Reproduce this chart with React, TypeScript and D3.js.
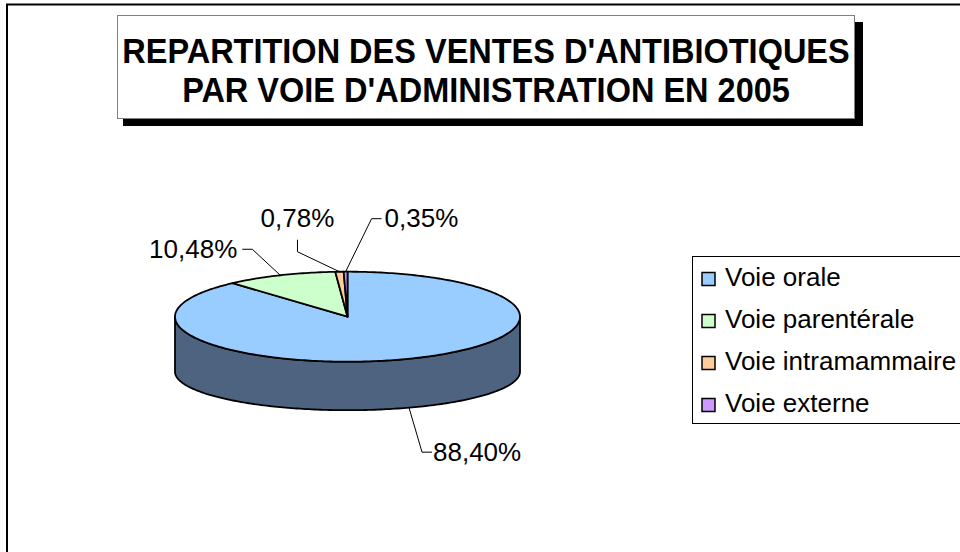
import React from "react";
import * as d3 from "d3";

const categories = ["Voie orale", "Voie parentérale", "Voie intramammaire", "Voie externe"];
const values = [88.4, 10.48, 0.78, 0.35];
const valueLabels = ["88,40%", "10,48%", "0,78%", "0,35%"];
const colors = ["#99CCFF", "#CCFFCC", "#FFCC99", "#CC99FF"];
const titleLines = ["REPARTITION DES VENTES D'ANTIBIOTIQUES", "PAR VOIE D'ADMINISTRATION EN 2005"];

// layout (positions relative to each slice's anchor)
const labelLayout = [
  { elbow: [13, 44.5], end: [23, 44.5], text: [1, 8.5], anchor: "start" },
  { elbow: [-28, -26], end: [-38, -26], text: [-5, 8.5], anchor: "end" },
  { elbow: [-42, -20], end: [-42, -32], text: [0, -13], anchor: "middle" },
  { elbow: [26, -53], end: [36, -53], text: [3, 8.5], anchor: "start" },
];

const W = 960, H = 552;
const cx = 347.5, cy = 316.7, rx = 172.5, ry = 45;
const botDy = 55, botRy = 38.5;
const FONT = "'Liberation Sans', Arial, sans-serif";

function pt(a: number, bottom = false): [number, number] {
  return bottom
    ? [cx + rx * Math.sin(a), cy + botDy - botRy * Math.cos(a)]
    : [cx + rx * Math.sin(a), cy - ry * Math.cos(a)];
}
function arcPts(s: number, e: number, bottom = false): [number, number][] {
  const n = Math.max(2, Math.ceil(((e - s) / (2 * Math.PI)) * 360));
  return d3.range(n + 1).map((i) => pt(s + ((e - s) * i) / n, bottom));
}
function darken(c: string) {
  const r = d3.rgb(c);
  return d3.rgb(r.r * 0.51, r.g * 0.485, r.b * 0.5).formatHex();
}

export default function App() {
  const arcs = d3.pie<number>().sort(null).value((d) => d)(values);
  const line = d3.line();
  const legendY = d3.scaleLinear().domain([0, 1]).range([279, 321]);

  const sides = arcs
    .map((a, i) => {
      const s = Math.max(a.startAngle, Math.PI / 2);
      const e = Math.min(a.endAngle, (3 * Math.PI) / 2);
      if (e <= s) return null;
      const top = arcPts(s, e);
      const bot = arcPts(s, e, true).reverse();
      return { i, d: line([...top, ...bot])! + "Z" };
    })
    .filter(Boolean) as { i: number; d: string }[];

  return (
    <svg width={W} height={H} style={{ position: "absolute", left: 0, top: 0, background: "#fff" }}>
      <rect x={7} y={4.5} width={1000} height={600} fill="#fff" stroke="#000" strokeWidth={2} />
      {/* title */}
      <rect x={123} y={22} width={740} height={104} fill="#000" />
      <rect x={117.5} y={15.5} width={737} height={103} fill="#fff" stroke="#808080" strokeWidth={1} />
      {titleLines.map((t, i) => (
        <text
          key={i}
          transform={`translate(486,${62.5 + i * 39}) scale(1,1.1)`}
          textAnchor="middle"
          fontFamily={FONT}
          fontWeight="bold"
          fontSize={32.5}
          fill="#000"
        >
          {t}
        </text>
      ))}
      {/* pie sides */}
      {sides.map((s) => (
        <path key={"s" + s.i} d={s.d} fill={darken(colors[s.i])} stroke="#000" strokeWidth={1.8} strokeLinejoin="round" />
      ))}
      {/* pie top */}
      {arcs.map((a, i) => {
        const pts = [[cx, cy] as [number, number], ...arcPts(a.startAngle, a.endAngle)];
        return <path key={"t" + i} d={line(pts)! + "Z"} fill={colors[i]} stroke="#000" strokeWidth={1.8} strokeLinejoin="round" />;
      })}
      {/* labels */}
      {arcs.map((a, i) => {
        const mid = (a.startAngle + a.endAngle) / 2;
        const front = Math.cos(mid) < 0;
        const [ax, ay] = pt(mid, front);
        const L = labelLayout[i];
        const ex = ax + L.elbow[0], ey = ay + L.elbow[1];
        const tx = ax + L.end[0], ty = ay + L.end[1];
        return (
          <g key={"l" + i}>
            <polyline points={`${ax},${ay} ${ex},${ey} ${tx},${ty}`} fill="none" stroke="#000" strokeWidth={1} />
            <text x={tx + L.text[0]} y={ty + L.text[1]} textAnchor={L.anchor as any} fontFamily={FONT} fontSize={26} fill="#000">
              {valueLabels[i]}
            </text>
          </g>
        );
      })}
      {/* legend */}
      <rect x={692.5} y={256.5} width={300} height={167} fill="#fff" stroke="#000" strokeWidth={1} />
      {categories.map((c, i) => (
        <g key={"g" + i} transform={`translate(0,${legendY(i)})`}>
          <rect x={702} y={-6.5} width={13} height={13} fill={colors[i]} stroke="#000" strokeWidth={1.5} />
          <text x={725} y={7} fontFamily={FONT} fontSize={26} fill="#000">
            {c}
          </text>
        </g>
      ))}
    </svg>
  );
}
